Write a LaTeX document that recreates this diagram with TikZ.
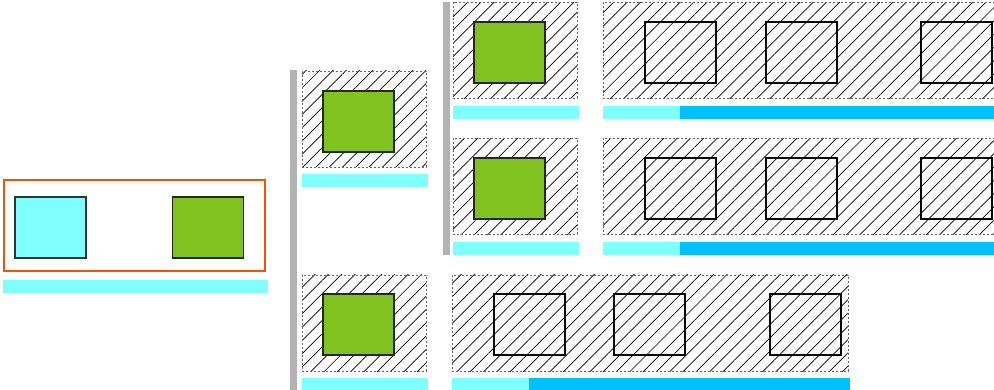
\documentclass[tikz,border=0pt]{standalone}
\usepackage{xcolor}
\usepackage{tikz}
\usetikzlibrary{patterns.meta}

\definecolor{lightcyan}{RGB}{128,255,255}
\definecolor{leafgreen}{RGB}{128,195,32}
\definecolor{skyblue}{RGB}{0,192,255}
\definecolor{railgray}{RGB}{179,179,179}
\definecolor{frameorange}{RGB}{240,82,10}

\begin{document}
\begin{tikzpicture}[x=1pt, y=-1pt,
    frame/.style={rectangle, draw=frameorange, line width=2.6pt, inner sep=0pt, minimum width=261pt, minimum height=91pt},
    cyansq/.style={rectangle, draw=black!80, fill=lightcyan, line width=1.2pt, inner sep=0pt, minimum width=71pt, minimum height=61pt},
    greensq/.style={rectangle, draw=black!85, fill=leafgreen, line width=1.2pt, inner sep=0pt, minimum width=71pt, minimum height=61pt},
    emptysq/.style={rectangle, draw=black, line width=1.2pt, inner sep=0pt, minimum width=71pt, minimum height=61pt},
    hatchbox/.style={rectangle, pattern={Lines[angle=45, distance=9.4pt, line width=0.7pt]}, pattern color=black,
        postaction={draw=black!60, line width=0.8pt, dash pattern=on 2pt off 2pt}, inner sep=0pt, minimum height=96pt},
    cyanbar/.style={rectangle, fill=lightcyan, inner sep=0pt, minimum height=13pt},
    bluebar/.style={rectangle, fill=skyblue, inner sep=0pt, minimum height=13pt},
    rail/.style={rectangle, fill=railgray, inner sep=0pt, minimum width=7pt}]

    \clip (0,0) rectangle (994,390);

    % Left: framed pair
    \node[frame] (F) at (134.5,225.5) {};
    \node[cyansq] (FC) at (50.5,227.5) {};
    \node[greensq] (FG) at (208,227.5) {};
    \node[cyanbar, minimum width=265pt] (FB) at (135.5,286.5) {};

    % Column 2
    \node[rail, minimum height=320pt] (R1) at (293.5,230) {};
    \node[hatchbox, minimum width=124pt] (A) at (364,119) {};
    \node[greensq] (AG) at (358.5,121.5) {};
    \node[cyanbar, minimum width=126pt] (AB) at (365,180.5) {};

    \node[hatchbox, minimum width=124pt] (B) at (364,323) {};
    \node[greensq] (BG) at (358.5,324.5) {};
    \node[cyanbar, minimum width=126pt] (BB) at (365,384.5) {};

    % Column 3
    \node[rail, minimum height=253pt] (R2) at (446.5,128.5) {};
    \node[hatchbox, minimum width=124pt] (C) at (515,50.5) {};
    \node[greensq] (CG) at (509.5,52.5) {};
    \node[cyanbar, minimum width=126pt] (CB) at (516,112.5) {};

    \node[hatchbox, minimum width=124pt] (D) at (515,186.5) {};
    \node[greensq] (DG) at (509.5,188.5) {};
    \node[cyanbar, minimum width=126pt] (DB) at (516,248.5) {};

    % Row 1: wide box
    \node[hatchbox, minimum width=396pt] (E) at (801,50.5) {};
    \node[emptysq] (E1) at (680.5,52.5) {};
    \node[emptysq] (E2) at (801.5,52.5) {};
    \node[emptysq] (E3) at (956.5,52.5) {};
    \node[cyanbar, minimum width=77pt] (EC) at (641.5,112.5) {};
    \node[bluebar, minimum width=321pt] (EL) at (840.5,112.5) {};

    % Row 2: wide box
    \node[hatchbox, minimum width=396pt] (G) at (801,186.5) {};
    \node[emptysq] (G1) at (680.5,188.5) {};
    \node[emptysq] (G2) at (801.5,188.5) {};
    \node[emptysq] (G3) at (956.5,188.5) {};
    \node[cyanbar, minimum width=77pt] (GC) at (641.5,248.5) {};
    \node[bluebar, minimum width=321pt] (GL) at (840.5,248.5) {};

    % Row 3: wide box
    \node[hatchbox, minimum width=396pt] (H) at (650,323) {};
    \node[emptysq] (H1) at (529.5,324.5) {};
    \node[emptysq] (H2) at (649.5,324.5) {};
    \node[emptysq] (H3) at (805.5,324.5) {};
    \node[cyanbar, minimum width=77pt] (HC) at (490.5,384.5) {};
    \node[bluebar, minimum width=321pt] (HL) at (689.5,384.5) {};
\end{tikzpicture}
\end{document}
